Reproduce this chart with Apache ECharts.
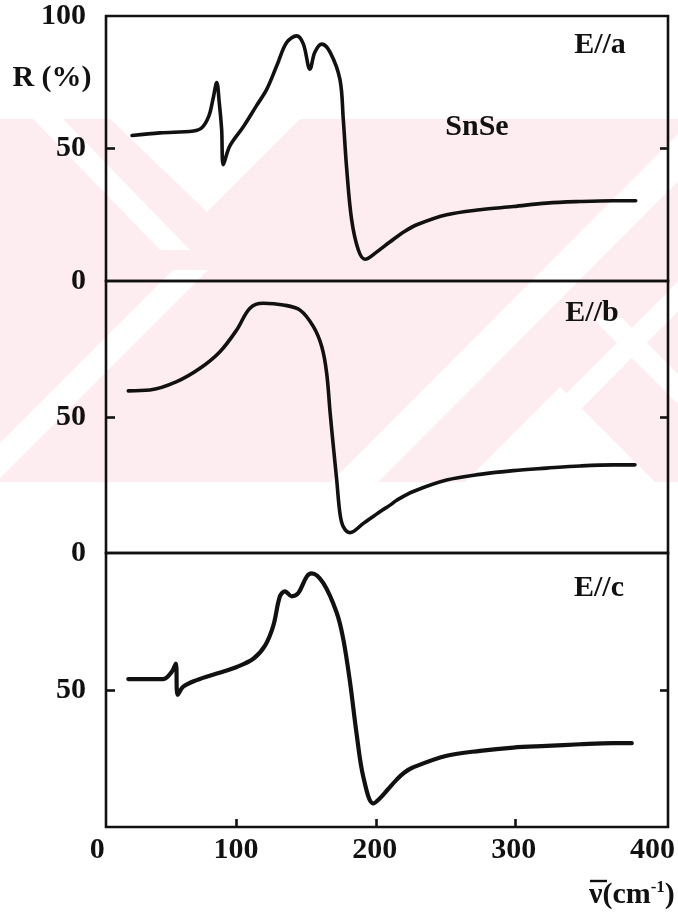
<!DOCTYPE html>
<html>
<head>
<meta charset="utf-8">
<script src="https://cdn.jsdelivr.net/npm/echarts@6/dist/echarts.min.js"></script>
<style>
  html, body { margin: 0; padding: 0; background: #fff; }
  #chart { width: 678px; height: 914px; }
</style>
</head>
<body>
<div id="chart"></div>
<script>
// Far-infrared reflectivity of SnSe for three polarizations.
// Wavenumber in cm^-1, reflectivity R in %.
const nuA = [25, 45, 69, 75, 80, 83, 85.7, 87.5, 89.2, 90.4, 95, 105, 114, 121.5, 128.7, 135.8, 143, 147.8, 152.5, 156, 161, 167, 174, 176.4, 178.9, 182.4, 187.2, 192, 200, 210, 220, 230, 250.5, 274.4, 298.3, 322.2, 346.1, 370, 386];
const rA  = [54.9, 55.9, 56.6, 57.8, 62.2, 68.6, 74.9, 67.3, 57.2, 43.9, 50.9, 58.4, 66, 72.3, 81.2, 90, 92.5, 89.4, 79.9, 86.3, 89.4, 86.3, 76.1, 61, 42, 23.1, 11.7, 8.2, 10.8, 14.8, 18.6, 21.4, 25, 26.9, 28.1, 29.4, 30, 30.3, 30.3];

const nuB = [22.3, 37.8, 57, 73.7, 88, 100, 109.5, 119, 133.4, 145.4, 155, 161, 164.5, 167, 169.3, 171.7, 174, 176.4, 181.2, 190.8, 202.7, 209.9, 214.7, 226.6, 250.5, 274.4, 298.3, 322.2, 346.1, 370, 385.5];
const rB  = [59.6, 59.9, 63, 67.9, 74, 82, 90, 91.8, 91.2, 89.3, 83.2, 75.8, 66.1, 51.4, 39.1, 26.8, 14.6, 9.7, 7.5, 10.9, 15.2, 17.6, 19.4, 22.6, 26.8, 28.9, 30.3, 31.2, 32, 32.4, 32.4];

const nuC = [22.3, 47.4, 53.4, 56.3, 57.7, 61.7, 71.3, 85.7, 100, 111.9, 120.3, 126.2, 131, 134.6, 139.4, 144.2, 150.2, 153.8, 162.1, 171.7, 176.4, 181.2, 186, 190.8, 197.9, 202.7, 208, 214.7, 220, 226.6, 250.5, 274.4, 298.3, 322.2, 346.1, 370, 383.2];
const rC  = [54, 54, 56.6, 59.6, 48.2, 51.2, 53.6, 56, 58.4, 61.4, 66.2, 73.4, 84.2, 86, 84.2, 85.4, 91.4, 92.6, 89, 78.2, 68.6, 53, 33.8, 18.2, 8.6, 10.5, 13.5, 17.3, 19.8, 21.8, 26, 27.8, 29, 29.6, 30.2, 30.6, 30.6];

const xTicks = [0, 100, 200, 300, 400];
const innerTicks = [100, 200, 300];
const panelLabels = ['E//a', 'E//b', 'E//c'];

const pairs = (xs, ys) => xs.map((x, i) => [x, ys[i]]);

const FONT = '"Liberation Serif", "Times New Roman", serif';
const INK = '#111';
const FS = 30;

// plotting frame: x pixel 106..668, data 0 sits at 97.2 and 100 cm^-1 spans 139.5 px
const FRAME_L = 106, FRAME_R = 668, X0 = 97.2, PX_PER = 1.395;
const xMin = (FRAME_L - X0) / PX_PER;
const xMax = (FRAME_R - X0) / PX_PER;

const panels = [
  { top: 16, height: 265, data: pairs(nuA, rA), labels: [0, 50, 100], width: 3.6 },
  { top: 281, height: 272, data: pairs(nuB, rB), labels: [0, 50], width: 3.6 },
  { top: 553, height: 274, data: pairs(nuC, rC), labels: [50], width: 4.2 }
];

const labelFont = { color: INK, fontFamily: FONT, fontWeight: 'bold', fontSize: FS };

const grid = [], xAxis = [], yAxis = [], series = [];
panels.forEach((p, i) => {
  grid.push({
    left: FRAME_L, right: 678 - FRAME_R, top: p.top, height: p.height,
    show: true, borderColor: INK, borderWidth: 2.6, backgroundColor: 'transparent'
  });
  xAxis.push({
    type: 'value', gridIndex: i, min: xMin, max: xMax,
    axisLine: { show: false }, splitLine: { show: false },
    axisLabel: { show: false },
    axisTick: i === 2
      ? { show: true, inside: true, length: 8, customValues: innerTicks, lineStyle: { color: INK, width: 2.6 } }
      : { show: false }
  });
  // left axis with labels, right axis with a tick only
  yAxis.push({
    type: 'value', gridIndex: i, min: 0, max: 100, position: 'left',
    axisLine: { show: false }, splitLine: { show: false },
    axisTick: { show: true, inside: true, length: 9, customValues: [50], lineStyle: { color: INK, width: 2.6 } },
    axisLabel: Object.assign({ customValues: p.labels, margin: 20 }, labelFont)
  });
  yAxis.push({
    type: 'value', gridIndex: i, min: 0, max: 100, position: 'right',
    axisLine: { show: false }, splitLine: { show: false },
    axisTick: { show: true, inside: true, length: 8, customValues: [50], lineStyle: { color: INK, width: 2.6 } },
    axisLabel: { show: false }
  });
  series.push({
    type: 'line', xAxisIndex: i, yAxisIndex: i * 2, data: p.data,
    smooth: 0.35, showSymbol: false, silent: true,
    lineStyle: { color: INK, width: p.width, cap: 'round', join: 'round' },
    z: 5
  });
});

// wavenumber scale along the bottom frame, 0..400 cm^-1
grid.push({ left: X0, right: 678 - (X0 + 400 * PX_PER), top: 553, height: 274 });
xAxis.push({
  type: 'value', gridIndex: 3, min: 0, max: 400, interval: 100,
  axisLine: { show: false }, axisTick: { show: false }, splitLine: { show: false },
  axisLabel: Object.assign({ margin: 8, customValues: xTicks }, labelFont)
});
yAxis.push({ type: 'value', gridIndex: 3, show: false, min: 0, max: 100 });

// light watermark band behind the plot
const PINK = '#fdedf0';
const white = (pts) => ({ type: 'polygon', z: -9, silent: true,
  shape: { points: pts }, style: { fill: '#fff' } });
const backdrop = [
  { type: 'rect', z: -10, silent: true, shape: { x: 0, y: 119, width: 678, height: 363 }, style: { fill: PINK } },
  white([[110, 119], [300, 119], [207, 212]]),
  white([[33, 119], [63, 119], [190, 250], [160, 250]]),
  white([[0, 443], [0, 478], [208, 270], [173, 270]]),
  white([[693, 119], [740, 119], [378, 482], [331, 482]]),
  white([[840, 119], [870, 119], [508, 482], [478, 482]]),
  white([[560, 387], [655, 482], [465, 482]]),
  white([[592, 318], [622, 318], [700, 396], [700, 426]])
];

const text = (t, x, y) => ({
  type: 'text', z: 10, silent: true,
  style: { text: t, x: x, y: y, fill: INK, font: 'bold ' + FS + 'px ' + FONT,
    textAlign: 'center', textVerticalAlign: 'middle' }
});

const labelsG = [
  text('R (%)', 52, 78),
  text('SnSe', 477, 127),
  text(panelLabels[0], 600, 45),
  text(panelLabels[1], 592, 313),
  text(panelLabels[2], 599, 588),
  {
    type: 'text', z: 10, silent: true,
    style: {
      x: 589, y: 895, textAlign: 'left', textVerticalAlign: 'middle',
      text: '{u|ν(cm}{sup|-1}{u|)}',
      rich: {
        u: { fontFamily: FONT, fontWeight: 'bold', fontSize: FS, fill: INK, lineHeight: 32 },
        sup: { fontFamily: FONT, fontWeight: 'bold', fontSize: 17, fill: INK, lineHeight: 32, verticalAlign: 'top' }
      }
    }
  },
  // overbar on the wavenumber symbol
  { type: 'line', z: 10, silent: true, shape: { x1: 590, y1: 881, x2: 607, y2: 881 },
    style: { stroke: INK, lineWidth: 2.4 } }
];

const chart = echarts.init(document.getElementById('chart'), null, { renderer: 'canvas' });
chart.setOption({
  backgroundColor: '#fff',
  animation: false,
  grid, xAxis, yAxis, series,
  graphic: { elements: backdrop.concat(labelsG) }
});
</script>
</body>
</html>
